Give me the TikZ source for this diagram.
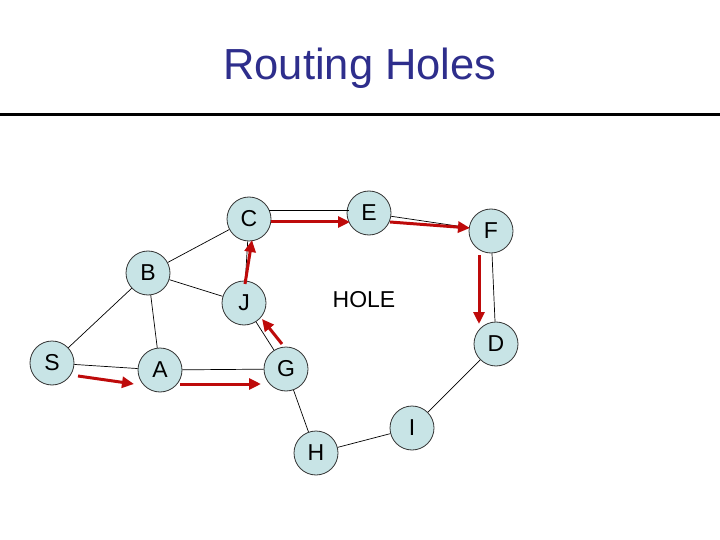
\documentclass[tikz,border=0pt]{standalone}
\usepackage{fontspec}
\setmainfont{Liberation Sans}
\usetikzlibrary{arrows.meta}
\definecolor{nodefill}{RGB}{200,228,230}
\definecolor{pathred}{RGB}{190,10,10}
\definecolor{titleblue}{RGB}{46,46,140}
\begin{document}
\begin{tikzpicture}[x=1pt,y=-1pt,line join=round,
	vertex/.style={circle,draw=black!80,line width=.8pt,fill=nodefill,minimum size=44pt,inner sep=0pt,font=\fontsize{23}{23}\selectfont},
	link/.style={draw,line width=.7pt},
	hop/.style={draw=pathred,line width=3pt,-{Triangle[length=12pt,width=11pt]}}]
	\useasboundingbox (0,0) rectangle (720,540);
	\node[text=titleblue,font=\fontsize{43.5}{43.5}\selectfont] (title) at (360,68) {Routing Holes};
	\draw[line width=3pt] (0,115)--(720,115);
	\node[vertex] (S) at (52,363) {S};
	\node[vertex] (A) at (160,370) {A};
	\node[vertex] (B) at (148,273) {B};
	\node[vertex] (C) at (249,219) {C};
	\node[vertex] (J) at (244,303) {J};
	\node[vertex] (G) at (286,369) {G};
	\node[vertex] (E) at (369,213) {E};
	\node[vertex] (F) at (491,231) {F};
	\node[vertex] (D) at (496,344) {D};
	\node[vertex] (H) at (316,453) {H};
	\node[vertex] (I) at (412,428) {I};
	\node[font=\fontsize{23}{23}\selectfont] (hole) at (364,300) {HOLE};
	\path[link] (S)--(B) (S)--(A) (B)--(A) (B)--(C) (B)--(J) (C)--(J)
		(A)--(G) (G)--(J) (G)--(H) (H)--(I) (I)--(D) (D)--(F) (F)--(E);
	\coordinate (ce1) at (269,210); \coordinate (ce2) at (349,210);
	\draw[link] (ce1)--(ce2);
	% route around the hole
	\coordinate (p1) at (78,376); \coordinate (p2) at (134,384);
	\coordinate (p3) at (180,384); \coordinate (p4) at (261,384);
	\coordinate (p5) at (282,344); \coordinate (p6) at (262,319);
	\coordinate (p7) at (245,284); \coordinate (p8) at (252,240);
	\coordinate (p9) at (271,222); \coordinate (p10) at (350,222);
	\coordinate (p11) at (390,222); \coordinate (p12) at (470,228);
	\coordinate (p13) at (479,255); \coordinate (p14) at (479,324);
	\foreach \u/\v in {p1/p2,p3/p4,p5/p6,p7/p8,p9/p10,p11/p12,p13/p14}
		\draw[hop] (\u)--(\v);
\end{tikzpicture}
\end{document}
